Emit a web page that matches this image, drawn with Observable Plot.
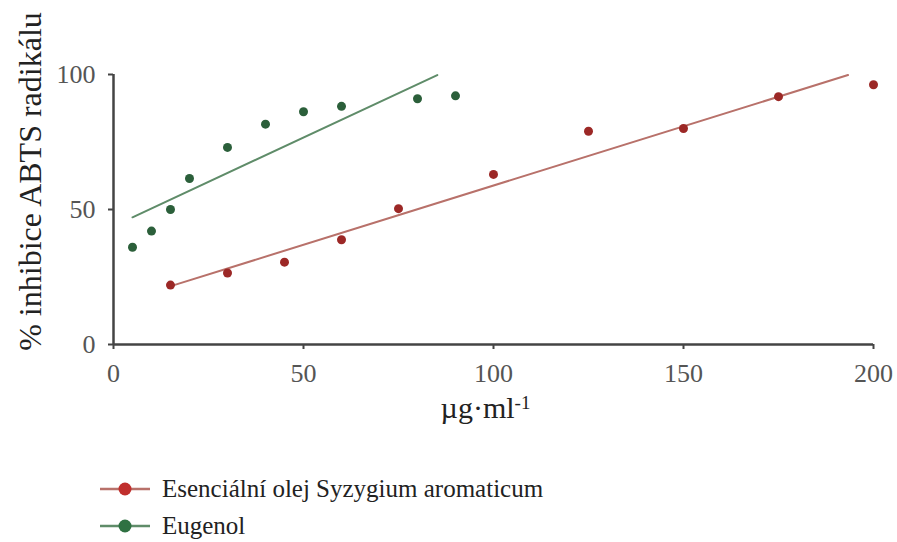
<!DOCTYPE html>
<html>
<head>
<meta charset="utf-8">
<script src="https://cdn.jsdelivr.net/npm/d3@7"></script>
<script src="https://cdn.jsdelivr.net/npm/@observablehq/plot@0.6"></script>
<style>
  html, body { margin: 0; padding: 0; background: #fff; font-family: "Liberation Serif", "Times New Roman", serif; }
  #chart { width: 897px; }
  svg text { font-family: "Liberation Serif", "Times New Roman", serif; }
  .legend { font-family: "Liberation Serif", "Times New Roman", serif; font-size: 25px; color: #222; padding-top: 30px; }
  .legend .row { display: flex; align-items: center; height: 37px; }
  .legend svg { margin-left: 100px; margin-right: 12px; }
</style>
</head>
<body>
<div id="chart"></div>
<script>
// ---- data ----
const seriesNames = ["Esenciální olej Syzygium aromaticum", "Eugenol"];
const oilX = [15, 30, 45, 60, 75, 100, 125, 150, 175, 200];
const oilY = [22, 26.5, 30.5, 38.8, 50.3, 63, 79, 80, 91.8, 96.2];
const eugX = [5, 10, 15, 20, 30, 40, 50, 60, 80, 90];
const eugY = [36, 42, 50, 61.5, 73, 81.6, 86.2, 88.2, 91, 92.1];
// trend line endpoints
const oilTrendX = [15.5, 193.3];
const oilTrendY = [21.8, 99.8];
const eugTrendX = [5, 85.2];
const eugTrendY = [47.1, 99.8];
const xTicks = [0, 50, 100, 150, 200];
const yTicks = [0, 50, 100];
const pointColors = ["#9c2826", "#2b5f3a"];
const lineColors = ["#b8716a", "#5f8c69"];
const legendColors = ["#c02f2d", "#2f7142"];

const pts = [
  ...oilX.map((x, i) => ({x, y: oilY[i], s: 0})),
  ...eugX.map((x, i) => ({x, y: eugY[i], s: 1}))
];
const trends = [
  ...oilTrendX.map((x, i) => ({x, y: oilTrendY[i], s: 0})),
  ...eugTrendX.map((x, i) => ({x, y: eugTrendY[i], s: 1}))
];

const font = "'Liberation Serif', 'Times New Roman', serif";
const axisColor = "#444";

const plot = Plot.plot({
  width: 897,
  height: 440,
  marginLeft: 113,
  marginRight: 24,
  marginTop: 74,
  marginBottom: 96,
  style: { fontFamily: font, background: "#fff", color: "#333" },
  x: { domain: [0, 200], ticks: xTicks },
  y: { domain: [0, 100], ticks: yTicks },
  marks: [
    Plot.axisX({ ticks: xTicks, tickSize: 5, tickPadding: 14, fontSize: 26, label: null, stroke: axisColor, strokeWidth: 2, fill: "#555" }),
    Plot.axisY({ ticks: yTicks, tickSize: 5, tickPadding: 13, fontSize: 26, label: null, stroke: axisColor, strokeWidth: 2, fill: "#555" }),
    Plot.ruleY([0], { stroke: axisColor, strokeWidth: 2.5 }),
    Plot.ruleX([0], { stroke: axisColor, strokeWidth: 2.5 }),
    Plot.line(trends, { x: "x", y: "y", z: "s", stroke: d => lineColors[d.s], strokeWidth: 2 }),
    Plot.dot(pts, { x: "x", y: "y", r: 4.5, fill: d => pointColors[d.s], stroke: "none" }),
    Plot.text(["µg·ml"], { frameAnchor: "bottom", dy: 73, dx: -8, fontSize: 30, fill: "#222", text: d => d }),
    Plot.text(["% inhibice ABTS radikálu"], { frameAnchor: "left", textAnchor: "middle", dx: -83, dy: -28, rotate: -90, fontSize: 32, fill: "#222", text: d => d })
  ]
});

// superscript "-1" for the x-axis title
const svg = d3.select(plot);
svg.selectAll("text").filter(function () { return this.textContent === "µg·ml"; })
  .each(function () {
    const t = d3.select(this);
    t.text(null);
    t.append("tspan").text("µg·ml");
    t.append("tspan").attr("dy", "-0.45em").attr("font-size", 19).text("-1");
  });

document.getElementById("chart").appendChild(plot);

// legend below
const legend = d3.select("#chart").append("div").attr("class", "legend");
seriesNames.forEach((name, i) => {
  const row = legend.append("div").attr("class", "row");
  const s = row.append("svg").attr("width", 50).attr("height", 20);
  s.append("line").attr("x1", 0).attr("x2", 50).attr("y1", 10).attr("y2", 10)
    .attr("stroke", lineColors[i]).attr("stroke-width", 2.5);
  s.append("circle").attr("cx", 25).attr("cy", 10).attr("r", 6.5).attr("fill", legendColors[i]);
  row.append("span").text(name);
});
</script>
</body>
</html>
